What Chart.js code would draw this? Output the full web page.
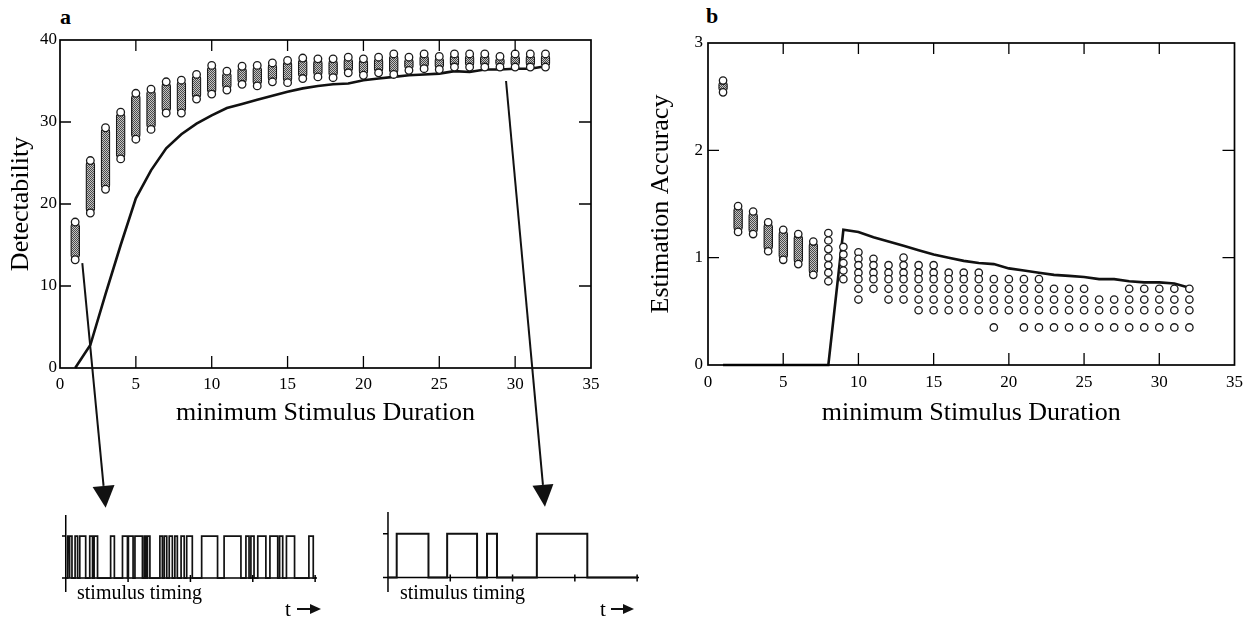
<!DOCTYPE html>
<html>
<head>
<meta charset="utf-8">
<script src="https://cdn.jsdelivr.net/npm/chart.js@4.4.1/dist/chart.umd.min.js"></script>
<style>
  body { margin:0; background:#fff; width:1254px; height:621px; position:relative; overflow:hidden; font-family:'Liberation Serif', serif; }
  canvas, .lbl { position:absolute; }
  .lbl { color:#000; white-space:nowrap; line-height:1; }
</style>
</head>
<body>
<div class="lbl" style="left:60px;top:6px;font-weight:bold;font-size:22px;">a</div>
<div class="lbl" style="left:706px;top:5px;font-weight:bold;font-size:22px;">b</div>
<canvas id="chartA" width="610" height="440" style="left:0;top:0"></canvas>
<canvas id="chartB" width="610" height="440" style="left:640px;top:0"></canvas>
<canvas id="timeL" width="255" height="77" style="left:62px;top:515px"></canvas>
<canvas id="timeR" width="256" height="80" style="left:383px;top:512px"></canvas>
<div class="lbl" style="left:77px;top:582px;font-size:20px;">stimulus timing</div>
<div class="lbl" style="left:285px;top:599px;font-size:21px;">t</div>
<div class="lbl" style="left:400px;top:582px;font-size:20px;">stimulus timing</div>
<div class="lbl" style="left:600px;top:599px;font-size:21px;">t</div>
<canvas id="overlay" width="1254" height="621" style="left:0;top:0;pointer-events:none"></canvas>

<script>
// minimum stimulus duration (x of every column)
const durations = [1,2,3,4,5,6,7,8,9,10,11,12,13,14,15,16,17,18,19,20,21,22,23,24,25,26,27,28,29,30,31,32];

// panel a: detectability, spread of simulated runs (low / high end of each column) and curve
const aLo = [13.2,18.9,21.8,25.5,27.9,29.1,31.1,31.1,32.8,33.4,33.9,34.6,34.4,34.9,34.8,35.3,
             35.5,35.4,36.0,35.7,36.0,35.8,36.3,36.5,36.4,36.7,36.7,36.7,36.7,36.7,36.7,36.7];
const aHi = [17.8,25.3,29.3,31.2,33.5,34.0,34.9,35.1,35.8,36.9,36.2,36.8,36.9,37.2,37.5,37.8,
             37.7,37.7,37.9,37.7,37.9,38.3,37.9,38.3,38.0,38.3,38.3,38.3,38.0,38.3,38.3,38.3];
const aCurve = [0,2.8,9,15,20.7,24.1,26.8,28.5,29.8,30.8,31.7,32.2,32.7,33.2,33.7,34.1,
                34.4,34.6,34.7,35.1,35.3,35.5,35.7,35.8,35.9,36.2,36.1,36.4,36.4,36.5,36.5,36.8];

// panel b: estimation accuracy; durations 1-7 are dense columns, 8-32 discrete values
const bLo = [2.54,1.24,1.22,1.06,0.98,0.94,0.84];
const bHi = [2.65,1.48,1.43,1.33,1.26,1.22,1.15];
const bDots = [
  [1.23,1.16,1.08,1.0,0.93,0.86,0.78],
  [1.10,1.03,0.95,0.88,0.80],
  [1.05,0.99,0.93,0.86,0.80,0.71,0.61],
  [0.99,0.93,0.86,0.80,0.71],
  [0.93,0.86,0.80,0.71,0.61],
  [1.0,0.93,0.86,0.80,0.71,0.61],
  [0.93,0.86,0.80,0.71,0.61,0.51],
  [0.93,0.86,0.80,0.71,0.61,0.51],
  [0.86,0.80,0.71,0.61,0.51],
  [0.86,0.80,0.71,0.61,0.51],
  [0.86,0.80,0.71,0.61,0.51],
  [0.80,0.71,0.61,0.51,0.35],
  [0.80,0.71,0.61,0.51],
  [0.80,0.71,0.61,0.51,0.35],
  [0.80,0.71,0.61,0.51,0.35],
  [0.71,0.61,0.51,0.35],
  [0.71,0.61,0.51,0.35],
  [0.71,0.61,0.51,0.35],
  [0.61,0.51,0.35],
  [0.61,0.51,0.35],
  [0.71,0.61,0.51,0.35],
  [0.71,0.61,0.51,0.35],
  [0.71,0.61,0.51,0.35],
  [0.71,0.61,0.51,0.35],
  [0.71,0.61,0.51,0.35]
];
const bCurve = [0,0,0,0,0,0,0,0,1.26,1.24,1.19,1.15,1.11,1.07,1.03,1.0,
                0.97,0.95,0.94,0.90,0.88,0.86,0.84,0.83,0.82,0.80,0.80,0.78,0.77,0.77,0.76,0.72];

// stimulus timing examples (on / off intervals)
const pulsesShort = [[0.3,0.55],[0.65,1.0],[1.5,1.9],[2.25,3.2],[3.85,4.3],[4.55,5.1],[7.2,7.8],
  [9.1,9.9],[10.05,10.8],[11.1,12.3],[12.6,12.85],[13.1,13.5],[15.1,15.5],[15.8,16.2],[16.6,17.1],
  [17.5,17.9],[18.5,19.0],[19.4,20.3],[21.8,24.35],[25.4,28.1],[28.9,29.4],[29.7,30.2],[30.8,32.1],
  [32.75,34.0],[34.3,34.8],[35.4,36.7],[39.0,39.7]];
const pulsesLong = [[1.4,6.5],[9.5,14.3],[15.9,17.5],[23.9,32.0]];
const timeTicks = [10,20,30,40];

const serif = 'Liberation Serif';
const ink = '#111';

// dither used inside the dense columns (many overlapping circles)
const tile = document.createElement('canvas');
tile.width = 2; tile.height = 2;
const tctx = tile.getContext('2d');
tctx.fillStyle = '#c4c4c4'; tctx.fillRect(0, 0, 2, 2);
tctx.fillStyle = '#4a4a4a';
tctx.fillRect(0, 0, 1, 1); tctx.fillRect(1, 1, 1, 1);
const stipple = tctx.createPattern(tile, 'repeat');

const framePlugin = {
  id: 'frame',
  afterDatasetsDraw(chart, args, opts) {
    const {ctx, chartArea: a, scales: {x, y}} = chart;
    ctx.save();
    ctx.strokeStyle = '#000';
    ctx.lineWidth = 1.7;
    ctx.strokeRect(a.left, a.top, a.right - a.left, a.bottom - a.top);
    ctx.lineWidth = 1.3;
    ctx.beginPath();
    opts.xTicks.forEach(v => {
      const px = x.getPixelForValue(v);
      ctx.moveTo(px, a.bottom); ctx.lineTo(px, a.bottom - 12);
      ctx.moveTo(px, a.top); ctx.lineTo(px, a.top + 11);
    });
    opts.yTicks.forEach(v => {
      const py = y.getPixelForValue(v);
      ctx.moveTo(a.left, py); ctx.lineTo(a.left + 11, py);
      ctx.moveTo(a.right, py); ctx.lineTo(a.right - 12, py);
    });
    ctx.stroke();
    ctx.restore();
  }
};

const timeAxisPlugin = {
  id: 'timeAxis',
  beforeDatasetsDraw(chart) {
    const {ctx, scales: {x, y}} = chart;
    const x0 = x.getPixelForValue(0), y0 = y.getPixelForValue(0), y1 = y.getPixelForValue(1);
    ctx.save();
    ctx.strokeStyle = '#000';
    ctx.lineWidth = 1.5;
    ctx.beginPath();
    ctx.moveTo(x0, y.getPixelForValue(y.max)); ctx.lineTo(x0, y.getPixelForValue(y.min));
    ctx.moveTo(x.getPixelForValue(x.min), y0); ctx.lineTo(x.getPixelForValue(x.max), y0);
    timeTicks.forEach(t => {
      const px = x.getPixelForValue(t);
      ctx.moveTo(px, y0 - 3); ctx.lineTo(px, y0 + 4);
    });
    ctx.moveTo(x0 - 5, y1); ctx.lineTo(x0, y1);
    ctx.stroke();
    ctx.restore();
  }
};

function dotStyle(r) {
  return { type: 'scatter', pointStyle: 'circle', pointRadius: r, pointHoverRadius: r,
    pointBorderWidth: 1.3, pointBorderColor: '#1a1a1a', pointBackgroundColor: '#fff', showLine: false, clip: false };
}
function columnStyle() {
  return { type: 'bar', barThickness: 9, borderRadius: 4.5, borderSkipped: false,
    borderWidth: 1.3, borderColor: '#1a1a1a', backgroundColor: stipple, clip: false };
}
function curveStyle() {
  return { type: 'line', borderColor: ink, borderWidth: 2.6, pointRadius: 0, fill: false, tension: 0, clip: false };
}

function mainScales(yMax, yStep, yTitle, yWidth, xHeight, xPad, yPad) {
  return {
    x: { type: 'linear', min: 0, max: 35, offset: false,
      afterFit: s => { s.height = xHeight; },
      grid: { display: false, drawTicks: false }, border: { display: false },
      ticks: { stepSize: 5, padding: xPad, color: '#000', maxRotation: 0, autoSkip: false, font: { family: serif, size: 17 } },
      title: { display: true, text: 'minimum Stimulus Duration', color: '#000',
        font: { family: serif, size: 26 }, padding: { top: 0, bottom: 11 } } },
    y: { type: 'linear', min: 0, max: yMax,
      afterFit: s => { s.width = yWidth; },
      grid: { display: false, drawTicks: false }, border: { display: false },
      ticks: { stepSize: yStep, padding: yPad, color: '#000', font: { family: serif, size: 17 } },
      title: { display: true, text: yTitle, color: '#000',
        font: { family: serif, size: 26 }, padding: { top: 6, bottom: 0 } } }
  };
}

const commonOpts = {
  responsive: false, animation: false, events: [],
  plugins: { legend: { display: false }, tooltip: { enabled: false } }
};

// panel a
const chartA = new Chart(document.getElementById('chartA'), {
  type: 'scatter',
  data: {
    datasets: [
      Object.assign(dotStyle(3.8), {
        data: durations.map((d, i) => ({x: d, y: aLo[i]})).concat(durations.map((d, i) => ({x: d, y: aHi[i]}))) }),
      Object.assign(columnStyle(), { data: durations.map((d, i) => ({x: d, y: [aLo[i], aHi[i]]})) }),
      Object.assign(curveStyle(), { data: durations.map((d, i) => ({x: d, y: aCurve[i]})) })
    ]
  },
  options: Object.assign({}, commonOpts, {
    layout: { padding: { top: 40, right: 19, left: 0, bottom: 0 } },
    scales: mainScales(40, 10, 'Detectability', 60, 72, 6, 3),
    plugins: Object.assign({}, commonOpts.plugins, { frame: { xTicks: [5,10,15,20,25,30], yTicks: [10,20,30] } })
  }),
  plugins: [framePlugin]
});

// panel b
const denseX = durations.slice(0, bLo.length);
const dotX = durations.slice(bLo.length);
const bPoints = denseX.map((d, i) => ({x: d, y: bLo[i]}))
  .concat(denseX.map((d, i) => ({x: d, y: bHi[i]})));
dotX.forEach((d, i) => bDots[i].forEach(v => bPoints.push({x: d, y: v})));

const chartB = new Chart(document.getElementById('chartB'), {
  type: 'scatter',
  data: {
    datasets: [
      Object.assign(dotStyle(3.7), { data: bPoints }),
      Object.assign(columnStyle(), { data: denseX.map((d, i) => ({x: d, y: [bLo[i], bHi[i]]})) }),
      Object.assign(curveStyle(), { data: durations.map((d, i) => ({x: d, y: bCurve[i]})) })
    ]
  },
  options: Object.assign({}, commonOpts, {
    layout: { padding: { top: 43, right: 12, left: 0, bottom: 0 } },
    scales: mainScales(3, 1, 'Estimation Accuracy', 68, 75, 7, 5),
    plugins: Object.assign({}, commonOpts.plugins, { frame: { xTicks: [5,10,15,20,25,30], yTicks: [1,2] } })
  }),
  plugins: [framePlugin]
});

// stimulus timing traces
function pulseTrace(pulses) {
  const pts = [{x: 0, y: 0}];
  pulses.forEach(p => {
    pts.push({x: p[0], y: 0}, {x: p[0], y: 1}, {x: p[1], y: 1}, {x: p[1], y: 0});
  });
  pts.push({x: 40, y: 0});
  return pts;
}
function timingChart(id, pulses, xMin, width) {
  return new Chart(document.getElementById(id), {
    type: 'scatter',
    data: { datasets: [{ data: pulseTrace(pulses), showLine: true, borderColor: ink, borderWidth: width,
      pointRadius: 0, tension: 0, clip: false }] },
    options: Object.assign({}, commonOpts, {
      layout: { padding: 0 },
      scales: {
        x: { type: 'linear', min: xMin, max: 40.3, display: false },
        y: { type: 'linear', min: -0.33, max: 1.5, display: false }
      }
    }),
    plugins: [timeAxisPlugin]
  });
}
const timeL = timingChart('timeL', pulsesShort, -0.6, 1.7);
const timeR = timingChart('timeR', pulsesLong, -0.8, 2);

// arrows from panel a to the timing examples
function chartPoint(chart, canvasId, xv, yv) {
  const c = document.getElementById(canvasId);
  return [c.offsetLeft + chart.scales.x.getPixelForValue(xv), c.offsetTop + chart.scales.y.getPixelForValue(yv)];
}
function arrow(ctx, from, to, headLen, headW) {
  const dx = to[0] - from[0], dy = to[1] - from[1];
  const len = Math.hypot(dx, dy), ux = dx / len, uy = dy / len;
  const bx = to[0] - ux * headLen, by = to[1] - uy * headLen;
  ctx.beginPath();
  ctx.moveTo(from[0], from[1]); ctx.lineTo(bx, by);
  ctx.stroke();
  ctx.beginPath();
  ctx.moveTo(to[0], to[1]);
  ctx.lineTo(bx - uy * headW / 2, by + ux * headW / 2);
  ctx.lineTo(bx + uy * headW / 2, by - ux * headW / 2);
  ctx.closePath();
  ctx.fill();
}
const ov = document.getElementById('overlay').getContext('2d');
ov.strokeStyle = ink; ov.fillStyle = ink; ov.lineWidth = 2;
arrow(ov, chartPoint(chartA, 'chartA', 1.47, 12.8), chartPoint(timeL, 'timeL', 6.4, 1.67), 22, 22);
arrow(ov, chartPoint(chartA, 'chartA', 29.4, 35.0), chartPoint(timeR, 'timeR', 25.2, 1.62), 22, 21);
// small "t ->" arrows
arrow(ov, [297, 609], [321, 609], 11, 10);
arrow(ov, [611, 609], [634, 609], 11, 10);
</script>
</body>
</html>
